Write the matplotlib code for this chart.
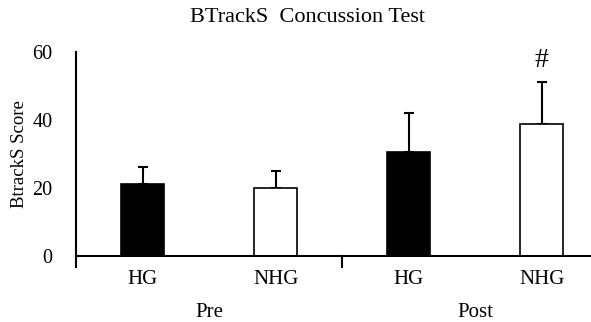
import matplotlib.pyplot as plt

# ---------------- DATA ----------------
groups = ["Pre", "Post"]
subgroups = ["HG", "NHG", "HG", "NHG"]
means = [21.2, 20.0, 30.6, 38.8]
errors = [5.0, 5.0, 11.5, 12.3]
fills = ["black", "white", "black", "white"]

# ---------------- PLOT ----------------
plt.rcParams["font.family"] = ["Liberation Serif", "DejaVu Serif"]

fig = plt.figure(figsize=(5.91, 3.22), dpi=100)
ax = fig.add_axes([0.1286, 0.205, 0.8714, 0.6335])

x = list(range(len(means)))
ax.bar(x, means, width=0.32, color=fills, edgecolor="black", linewidth=1.2, zorder=2)
ax.errorbar(x, means, yerr=[[0] * len(errors), errors], fmt="none",
            ecolor="black", elinewidth=1.5, capsize=3.5, capthick=1.5, zorder=1)

# significance mark
ax.text(3, means[3] + errors[3] + 6.3, "#", ha="center", va="center", fontsize=20)

ax.set_xlim(-0.5, 3.37)
ax.set_ylim(0, 60)
ax.set_yticks([0, 20, 40, 60])
ax.tick_params(axis="y", length=0, pad=17, labelsize=14.5)
ax.set_xticks([])
for xi, lab in zip(x, subgroups):
    ax.text(xi, -6.8, lab, ha="center", va="center", fontsize=15)
for i, g in enumerate(groups):
    ax.text(0.5 + 2 * i, -16.5, g, ha="center", va="center", fontsize=15)

# group separator ticks
for xs in [-0.5, 1.5]:
    ax.plot([xs, xs], [0, -3.2], color="black", lw=1.5, clip_on=False)

for s in ["top", "right"]:
    ax.spines[s].set_visible(False)
ax.spines["left"].set_linewidth(1.5)
ax.spines["bottom"].set_linewidth(1.5)

ax.set_ylabel("BtrackS Score", fontsize=13.5, labelpad=3)
fig.text(0.52, 0.945, "BTrackS  Concussion Test", ha="center", va="center", fontsize=16)

plt.savefig("out.png", dpi=100)
plt.close()
